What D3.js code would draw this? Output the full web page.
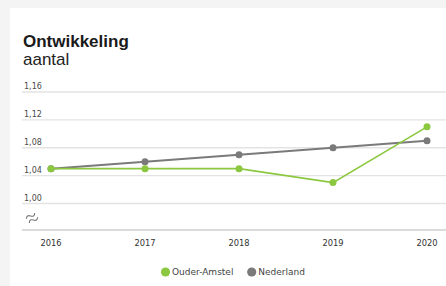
<!DOCTYPE html>
<html lang="nl">
<head>
  <meta charset="UTF-8">
  <title>Ontwikkeling</title>
  <script src="https://d3js.org/d3.v7.min.js"></script>
  <style>
    body {
      margin: 0;
      padding: 0;
      background: #f4f4f4;
      font-family: "DejaVu Sans", Arial, sans-serif;
    }
    #chart {
      position: absolute;
      left: 10px;
      top: 8px;
      width: 436px;
      height: 278px;
      background: #fff;
    }
  </style>
</head>
<body>
  <div id="chart"></div>
  <script>
    const years = [2016, 2017, 2018, 2019, 2020];
    const ouderAmstel = [1.05, 1.05, 1.05, 1.03, 1.11];
    const nederland = [1.05, 1.06, 1.07, 1.08, 1.09];
    const yTicks = [1.00, 1.04, 1.08, 1.12, 1.16];
    const seriesNames = ["Ouder-Amstel", "Nederland"];
    const seriesColors = ["#8cc83f", "#7a7a7a"];

    const width = 436, height = 278;
    // page coords minus card offset
    const ox = 10, oy = 8;

    const svg = d3.select("#chart").append("svg")
      .attr("width", width)
      .attr("height", height);

    // title
    svg.append("text")
      .attr("x", 23 - ox).attr("y", 47 - oy)
      .attr("font-family", "Arial, 'Liberation Sans', sans-serif")
      .attr("font-size", 17).attr("font-weight", "bold")
      .attr("fill", "#1a1a1a")
      .text("Ontwikkeling");
    svg.append("text")
      .attr("x", 23 - ox).attr("y", 65 - oy)
      .attr("font-family", "Arial, 'Liberation Sans', sans-serif")
      .attr("font-size", 17)
      .attr("fill", "#222")
      .text("aantal");

    const x = d3.scalePoint()
      .domain(years)
      .range([51 - ox, 427 - ox]);

    const y = d3.scaleLinear()
      .domain([0.962, 1.16])
      .range([230 - oy, 92 - oy]);

    const gridLeft = 22 - ox, gridRight = width;

    // gridlines + labels
    const grid = svg.append("g");
    grid.selectAll("line")
      .data(yTicks)
      .join("line")
      .attr("x1", gridLeft).attr("x2", gridRight)
      .attr("y1", d => y(d)).attr("y2", d => y(d))
      .attr("stroke", "#e3e3e3").attr("stroke-width", 1.3);
    grid.selectAll("text")
      .data(yTicks)
      .join("text")
      .attr("x", 24 - ox)
      .attr("y", d => y(d) - 3)
      .attr("font-size", 8)
      .attr("fill", "#4a4a4a")
      .text(d => d3.format(".2f")(d).replace(".", ","));

    // baseline axis
    svg.append("line")
      .attr("x1", gridLeft).attr("x2", gridRight)
      .attr("y1", y(0.962)).attr("y2", y(0.962))
      .attr("stroke", "#cfcfcf").attr("stroke-width", 1.5);

    // axis break symbol
    const brk = svg.append("g")
      .attr("transform", `translate(${32 - ox},${218 - oy}) rotate(-35)`)
      .attr("fill", "none").attr("stroke", "#777").attr("stroke-width", 1.1);
    brk.append("path").attr("d", "M-5,-2.5 q2.5,-3.5 5,0 t5,0");
    brk.append("path").attr("d", "M-5,2.5 q2.5,-3.5 5,0 t5,0");

    // year labels
    svg.append("g").selectAll("text")
      .data(years)
      .join("text")
      .attr("x", d => x(d))
      .attr("y", 246 - oy)
      .attr("text-anchor", "middle")
      .attr("font-size", 8.3)
      .attr("fill", "#333")
      .text(d => d);

    const line = d3.line()
      .x((d, i) => x(years[i]))
      .y(d => y(d));

    const series = [nederland, ouderAmstel];
    const cols = [seriesColors[1], seriesColors[0]];
    const widths = [2, 1.6];

    series.forEach((s, k) => {
      svg.append("path")
        .datum(s)
        .attr("d", line)
        .attr("fill", "none")
        .attr("stroke", cols[k])
        .attr("stroke-width", widths[k]);
      svg.append("g").selectAll("circle")
        .data(s)
        .join("circle")
        .attr("cx", (d, i) => x(years[i]))
        .attr("cy", d => y(d))
        .attr("r", 3.5)
        .attr("fill", cols[k]);
    });

    // legend
    const legend = svg.append("g");
    const legendX = [165.5 - ox, 251.7 - ox];
    const legendY = 272 - oy;
    seriesNames.forEach((name, i) => {
      legend.append("circle")
        .attr("cx", legendX[i]).attr("cy", legendY)
        .attr("r", 4.6)
        .attr("fill", seriesColors[i]);
      legend.append("text")
        .attr("x", legendX[i] + 6.5).attr("y", legendY + 3.2)
        .attr("font-size", 9)
        .attr("fill", "#444")
        .text(name);
    });
  </script>
</body>
</html>
